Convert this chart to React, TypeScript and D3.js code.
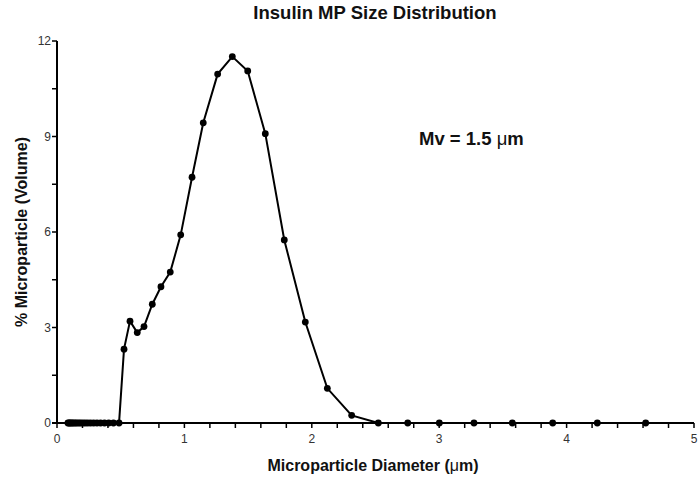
import React from "react";
import * as d3 from "d3";

const diameters: number[] = [
  0.086, 0.094, 0.102, 0.111, 0.121, 0.132, 0.144, 0.157, 0.172, 0.187, 0.204,
  0.222, 0.242, 0.264, 0.288, 0.314, 0.342, 0.373, 0.406, 0.443, 0.487,
  0.526, 0.573, 0.63, 0.683, 0.748, 0.816, 0.889, 0.971, 1.06, 1.148, 1.261,
  1.376, 1.497, 1.635, 1.784, 1.949, 2.122, 2.313, 2.522, 2.753, 3.001, 3.273,
  3.574, 3.891, 4.241, 4.621,
];
const volumes: number[] = [
  0, 0, 0, 0, 0, 0, 0, 0, 0, 0, 0,
  0, 0, 0, 0, 0, 0, 0, 0, 0, 0,
  2.32, 3.2, 2.84, 3.03, 3.73, 4.28, 4.74, 5.91, 7.72, 9.43, 10.96,
  11.51, 11.06, 9.09, 5.75, 3.17, 1.09, 0.24, 0, 0, 0, 0,
  0, 0, 0, 0,
];
const xMajorTicks: number[] = [0, 1, 2, 3, 4, 5];
const yMajorTicks: number[] = [0, 3, 6, 9, 12];

const title = "Insulin MP Size Distribution";
const xLabel = "Microparticle Diameter (";
const yLabel = "% Microparticle (Volume)";

export default function App() {
  const W = 700, H = 479;
  const x = d3.scaleLinear().domain([0, 5]).range([57, 694]);
  const y = d3.scaleLinear().domain([0, 12]).range([423, 41]);
  const data = diameters.map((d, i) => [d, volumes[i]] as [number, number]);
  const line = d3.line<[number, number]>().x(d => x(d[0])).y(d => y(d[1]));
  const xMinor = d3.range(0, 5.0001, 0.2);
  const yMinor = d3.range(0, 12.0001, 1.5);
  const font = "Liberation Sans, Arial, sans-serif";
  return (
    <svg width={W} height={H} style={{ position: "absolute", left: 0, top: 0, background: "#fff" }} fontFamily={font}>
      <rect width={W} height={H} fill="#fff" />
      <text x={375} y={19} textAnchor="middle" fontWeight="bold" fontSize={18.5} fill="#111">{title}</text>
      {/* y axis */}
      <line x1={x(0)} x2={x(0)} y1={y(12)} y2={y(0)} stroke="#000" strokeWidth={2} />
      {yMinor.map(t => (
        <line key={"ym" + t} x1={x(0) - 5} x2={x(0)} y1={y(t)} y2={y(t)} stroke="#000" strokeWidth={1.5} />
      ))}
      {yMajorTicks.map(t => (
        <text key={"yl" + t} x={x(0) - 6} y={y(t)} dy="0.35em" textAnchor="end" fontSize={12} fill="#333">{t}</text>
      ))}
      {/* x axis */}
      <line x1={x(0) - 5} x2={x(5)} y1={y(0)} y2={y(0)} stroke="#000" strokeWidth={2} />
      {xMinor.map(t => (
        <line key={"xm" + t} x1={x(t)} x2={x(t)} y1={y(0)} y2={y(0) + 5} stroke="#000" strokeWidth={1.5} />
      ))}
      {xMajorTicks.map(t => (
        <text key={"xl" + t} x={x(t)} y={y(0) + 20} textAnchor="middle" fontSize={12} fill="#333">{t}</text>
      ))}
      <text x={373} y={471} textAnchor="middle" fontWeight="bold" fontSize={16} fill="#111">
        {xLabel}<tspan fontWeight="normal">μ</tspan>m)
      </text>
      <text transform={`translate(27,${232}) rotate(-90)`} textAnchor="middle" fontWeight="bold" fontSize={16} fill="#111">{yLabel}</text>
      {/* data */}
      <path d={line(data) || ""} fill="none" stroke="#000" strokeWidth={2} />
      {data.map((d, i) => (
        <circle key={i} cx={x(d[0])} cy={y(d[1])} r={3.4} fill="#000" />
      ))}
      <text x={419} y={145} fontWeight="bold" fontSize={18.5} fill="#111">
        Mv = 1.5 <tspan fontWeight="normal">μ</tspan>m
      </text>
    </svg>
  );
}
